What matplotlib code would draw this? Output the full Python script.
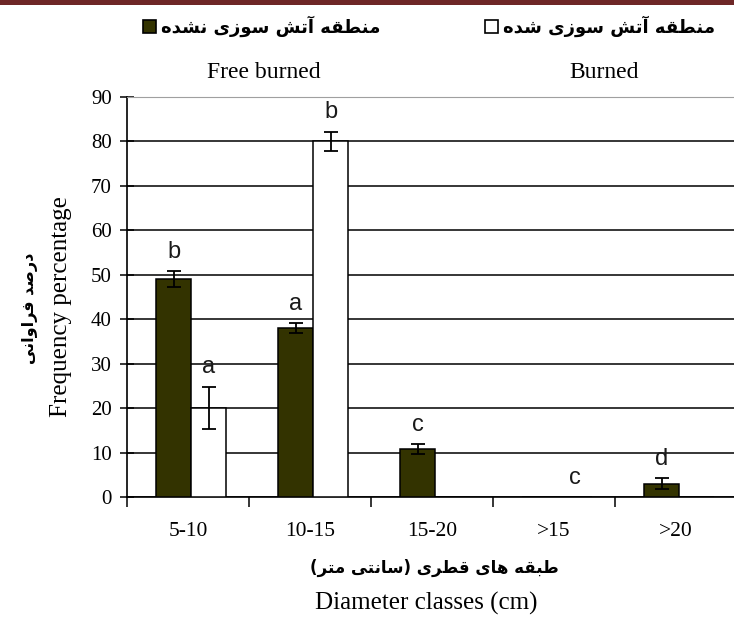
import matplotlib
matplotlib.use("Agg")
import matplotlib.pyplot as plt
import matplotlib.patches as mpatches
import numpy as np

W, H = 734, 617

categories = ["5-10", "10-15", "15-20", ">15", ">20"]
unburned = [49, 38, 10.8, 0, 3]
unburned_err = [1.8, 1.1, 1.1, 0, 1.2]
burned = [20, 80, 0, 0, 0]
burned_err = [4.8, 2.2, 0, 0, 0]
unburned_letters = ["b", "a", "c", "", "d"]
burned_letters = ["a", "b", "", "c", ""]

legend_fa = ["منطقه آتش سوزی نشده", "منطقه آتش سوزی شده"]
legend_en = ["Free burned", "Burned"]
ylabel_fa = "درصد فراوانی"
ylabel_en = "Frequency percentage"
xlabel_fa = "طبقه های قطری (سانتی متر)"
xlabel_en = "Diameter classes (cm)"

DARK = "#333300"

# presentation forms: isolated, final, initial, medial (None = no forward join)
FORMS = {
    "\u0627": (0xFE8D, 0xFE8E, None, None),
    "\u0622": (0xFE81, 0xFE82, None, None),
    "\u0628": (0xFE8F, 0xFE90, 0xFE91, 0xFE92),
    "\u062A": (0xFE95, 0xFE96, 0xFE97, 0xFE98),
    "\u062F": (0xFEA9, 0xFEAA, None, None),
    "\u0631": (0xFEAD, 0xFEAE, None, None),
    "\u0632": (0xFEAF, 0xFEB0, None, None),
    "\u0633": (0xFEB1, 0xFEB2, 0xFEB3, 0xFEB4),
    "\u0634": (0xFEB5, 0xFEB6, 0xFEB7, 0xFEB8),
    "\u0635": (0xFEB9, 0xFEBA, 0xFEBB, 0xFEBC),
    "\u0637": (0xFEC1, 0xFEC2, 0xFEC3, 0xFEC4),
    "\u0641": (0xFED1, 0xFED2, 0xFED3, 0xFED4),
    "\u0642": (0xFED5, 0xFED6, 0xFED7, 0xFED8),
    "\u0645": (0xFEE1, 0xFEE2, 0xFEE3, 0xFEE4),
    "\u0646": (0xFEE5, 0xFEE6, 0xFEE7, 0xFEE8),
    "\u0647": (0xFEE9, 0xFEEA, 0xFEEB, 0xFEEC),
    "\u0648": (0xFEED, 0xFEEE, None, None),
    "\u06CC": (0xFEEF, 0xFEF0, 0xFEF3, 0xFEF4),
}


def shape(text):
    # join Persian letters and put them in visual (left-to-right) order
    out = []
    for i, ch in enumerate(text):
        if ch not in FORMS:
            out.append(ch)
            continue
        iso, fin, ini, med = FORMS[ch]
        prev = text[i - 1] if i > 0 else None
        nxt = text[i + 1] if i < len(text) - 1 else None
        joins_prev = prev in FORMS and FORMS[prev][2] is not None
        joins_next = ini is not None and nxt in FORMS
        if joins_prev and joins_next:
            code = med
        elif joins_prev:
            code = fin
        elif joins_next:
            code = ini
        else:
            code = iso
        out.append(chr(code))
    visual = "".join(reversed(out))
    return visual.translate(str.maketrans("()", ")("))


def fxy(px, py):
    return px / W, 1 - py / H


fig = plt.figure(figsize=(W / 100, H / 100), dpi=100)
ax = fig.add_axes([127 / W, 120 / H, 607 / W, 400 / H])

x = np.arange(len(categories))
bw = 0.287
shift = 0.025
x_dark = x - bw / 2 + shift
x_white = x + bw / 2 + shift

ax.bar(x_dark, unburned, bw, color=DARK, edgecolor="black", linewidth=1.1, zorder=3)
ax.bar(x_white, burned, bw, color="white", edgecolor="black", linewidth=1.1, zorder=3)

for xs, vals, errs in [(x_dark, unburned, unburned_err), (x_white, burned, burned_err)]:
    sel = [i for i, e in enumerate(errs) if e > 0]
    ax.errorbar([xs[i] for i in sel], [vals[i] for i in sel], yerr=[errs[i] for i in sel],
                fmt="none", ecolor="black", elinewidth=1.3, capsize=5, capthick=1.3, zorder=4)

for xs, vals, errs, letters in [(x_dark, unburned, unburned_err, unburned_letters),
                                (x_white, burned, burned_err, burned_letters)]:
    for xi, v, e, t in zip(xs, vals, errs, letters):
        if t:
            ax.annotate(t, (xi, v + e), xytext=(0, 14), textcoords="offset points",
                        ha="center", va="center", fontsize=17, color="#1a1a1a",
                        family="Liberation Sans", zorder=5)

ax.set_xlim(-0.5, -0.5 + 607 / 122)
ax.set_ylim(0, 90)
ax.set_yticks(range(0, 91, 10))
ax.set_xticks(x)
ax.set_xticklabels(categories)
ax.set_xticks(np.arange(-0.5, 4.0, 1.0), minor=True)

ax.set_axisbelow(True)
ax.yaxis.grid(True, color="black", linewidth=1.1)
ax.get_ygridlines()[-1].set_color("#a0a0a0")

ax.spines["right"].set_visible(False)
ax.spines["top"].set_color("#a0a0a0")
ax.spines["left"].set_linewidth(1.2)
ax.spines["bottom"].set_linewidth(1.2)

ax.tick_params(axis="y", direction="inout", length=10, width=1.1, pad=6, labelsize=15)
ax.tick_params(axis="x", which="major", length=0, pad=18, labelsize=15.5)
ax.tick_params(axis="x", which="minor", direction="out", length=7, width=1.1)
for lab in ax.get_xticklabels() + ax.get_yticklabels():
    lab.set_family("Liberation Serif")

# axis titles
fig.text(*fxy(61, 307), ylabel_en, rotation=90, ha="center", va="center",
         fontsize=18, family="Liberation Serif")
fig.text(*fxy(30, 308), shape(ylabel_fa), rotation=90, ha="center", va="center",
         fontsize=11.5, family="DejaVu Sans", weight="bold")
fig.text(*fxy(434, 568), shape(xlabel_fa), ha="center", va="center",
         fontsize=12, family="DejaVu Sans", weight="bold")
fig.text(*fxy(426, 603), xlabel_en, ha="center", va="center",
         fontsize=18, family="Liberation Serif")

# legend
for (sx, face), fa, en, tx, ex in zip([(143, DARK), (485, "white")], legend_fa, legend_en,
                                      [161, 503], [264, 604]):
    bx, by = fxy(sx, 33)
    fig.patches.append(mpatches.Rectangle((bx, by), 13 / W, 13 / H, transform=fig.transFigure,
                                          facecolor=face, edgecolor="black", linewidth=1.2))
    fig.text(*fxy(tx, 26), shape(fa), ha="left", va="center", fontsize=13,
             family="DejaVu Sans", weight="bold")
    fig.text(*fxy(ex, 72), en, ha="center", va="center", fontsize=17, family="Liberation Serif")

# dark band across the top
fig.patches.append(mpatches.Rectangle((0, 1 - 5 / H), 1, 5 / H, transform=fig.transFigure,
                                      facecolor="#6e2727", edgecolor="none"))

fig.savefig("out.png", dpi=100)
